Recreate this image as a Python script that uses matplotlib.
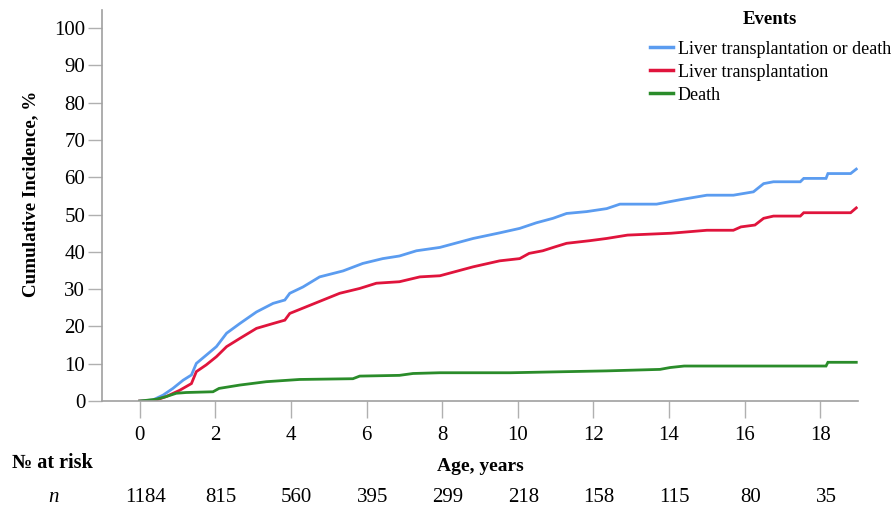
import numpy as np
import matplotlib
matplotlib.use("Agg")
import matplotlib.pyplot as plt
from matplotlib import transforms

plt.rcParams['font.family'] = ['Liberation Serif', 'DejaVu Serif']

# cumulative incidence curves (time in years, value in %)
t_any = [0, 0.35, 0.62, 0.88, 1.15, 1.37, 1.5, 1.76, 2.03, 2.3, 2.65, 3.09, 3.53, 3.84,
         3.97, 4.32, 4.76, 5.38, 5.9, 6.43, 6.87, 7.32, 7.94, 8.82, 9.52, 10.05, 10.49,
         10.93, 11.29, 11.82, 12.35, 12.7, 13.67, 14.3, 15.0, 15.7, 16.23, 16.5, 16.76,
         17.47, 17.56, 18.15, 18.2, 18.8, 18.95]
ci_any = [0, 0.3, 1.6, 3.4, 5.6, 7.0, 10.1, 12.3, 14.6, 18.2, 20.8, 23.9, 26.2, 27.1,
          28.9, 30.6, 33.3, 34.9, 36.9, 38.2, 38.9, 40.3, 41.2, 43.6, 45.1, 46.3, 47.8,
          49.0, 50.3, 50.8, 51.6, 52.8, 52.8, 54.0, 55.2, 55.2, 56.1, 58.3, 58.8,
          58.8, 59.7, 59.7, 61.0, 61.0, 62.2]

t_lt = [0, 0.18, 0.44, 0.7, 1.06, 1.37, 1.5, 1.76, 2.03, 2.3, 2.65, 3.09, 3.53, 3.84,
        3.97, 4.41, 4.85, 5.29, 5.82, 6.26, 6.87, 7.41, 7.94, 8.82, 9.52, 10.05, 10.3,
        10.66, 11.0, 11.29, 11.9, 12.35, 12.9, 14.05, 15.0, 15.7, 15.9, 16.27, 16.5,
        16.76, 17.47, 17.56, 18.8, 18.95]
ci_lt = [0, 0, 0.3, 1.2, 2.9, 4.7, 7.9, 9.7, 11.9, 14.6, 16.8, 19.5, 20.8, 21.7,
         23.5, 25.3, 27.1, 28.9, 30.2, 31.6, 32.0, 33.3, 33.6, 36.0, 37.6, 38.2, 39.6,
         40.3, 41.4, 42.3, 43.0, 43.6, 44.5, 45.0, 45.8, 45.8, 46.7, 47.2, 49.0,
         49.6, 49.6, 50.5, 50.5, 51.8]

t_death = [0, 0.44, 0.7, 0.97, 1.23, 1.94, 2.1, 2.65, 3.35, 4.23, 5.64, 5.82, 6.87, 7.23,
           7.94, 9.8, 12.35, 13.76, 14.03, 14.4, 18.15, 18.2, 18.95]
ci_death = [0, 0.5, 1.2, 2.1, 2.3, 2.5, 3.4, 4.3, 5.2, 5.8, 6.0, 6.7, 6.9, 7.4,
            7.6, 7.6, 8.1, 8.5, 9.0, 9.4, 9.4, 10.4, 10.4]

risk_times = [0, 2, 4, 6, 8, 10, 12, 14, 16, 18]
at_risk = [1184, 815, 560, 395, 299, 218, 158, 115, 80, 35]

labels = ['Liver transplantation or death', 'Liver transplantation', 'Death']
colors = ['#5b9cf0', '#e0143c', '#2a8c2a']

fig = plt.figure(figsize=(8.93, 5.09), dpi=100)
ax = fig.add_axes([0.114, 0.212, 0.847, 0.768])

for t, y, lab, c in zip([t_any, t_lt, t_death], [ci_any, ci_lt, ci_death], labels, colors):
    ax.plot(t, y, color=c, lw=2.0, label=lab, solid_joinstyle='miter')

ax.set_xlim(-1, 19)
ax.set_ylim(0, 104.8)
ax.set_xticks(risk_times)
ax.set_yticks(np.arange(0, 101, 10))
for s in ['top', 'right']:
    ax.spines[s].set_visible(False)
for s in ['left', 'bottom']:
    ax.spines[s].set_color('#a0a0a0')
    ax.spines[s].set_linewidth(1.2)
ax.tick_params(axis='x', length=12, color='#b0b0b0', width=1, labelsize=15, pad=6)
ax.tick_params(axis='y', length=10, color='#b0b0b0', width=1, labelsize=15, pad=2)

ax.set_ylabel('Cumulative Incidence, %', fontsize=13.7, fontweight='bold')
ax.yaxis.set_label_coords(-0.083, 0.53)
ax.set_xlabel('Age, years', fontsize=14, fontweight='bold', labelpad=9)

fig.text(0.862, 0.962, 'Events', fontsize=13.5, fontweight='bold', ha='center', va='center')
leg = ax.legend(loc='upper right', bbox_to_anchor=(0.998, 0.92),
                bbox_transform=fig.transFigure, frameon=False, fontsize=13,
                handlelength=1.25, handletextpad=0.3, labelspacing=0.33, borderaxespad=0,
                borderpad=0)
for h in leg.get_lines():
    h.set_linewidth(2.5)

# number at risk table
fig.text(0.013, 0.09, '№ at risk', fontsize=14.5, fontweight='bold', va='center')
fig.text(0.06, 0.022, 'n', fontsize=15, style='italic', va='center', ha='center')
row = transforms.blended_transform_factory(ax.transData, fig.transFigure)
for t, n in zip(risk_times, at_risk):
    ax.text(t + 0.15, 0.022, str(n), transform=row, fontsize=15,
            ha='center', va='center', clip_on=False)

fig.savefig('out.png', dpi=100)
